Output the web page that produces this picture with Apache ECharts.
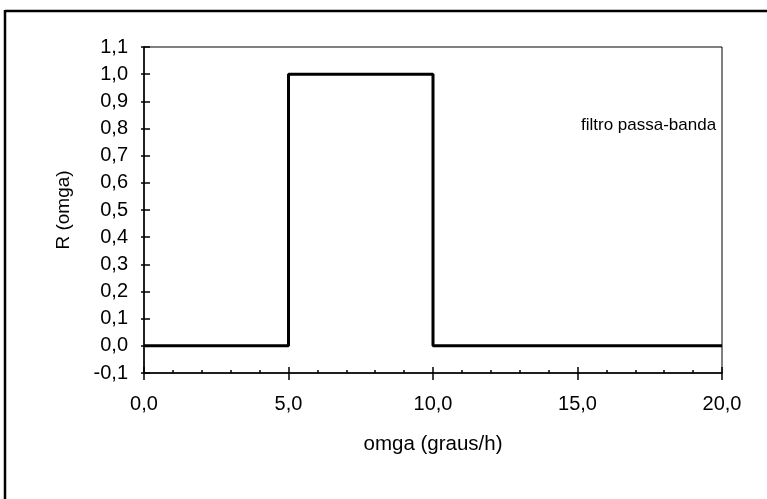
<!DOCTYPE html>
<html>
<head>
<meta charset="utf-8">
<script src="https://cdn.jsdelivr.net/npm/echarts@6/dist/echarts.min.js"></script>
<style>
  html, body { margin: 0; padding: 0; background: #fff; }
  #chart { width: 767px; height: 499px; }
</style>
</head>
<body>
<div id="chart"></div>
<script>
// Ideal band-pass response R(omga): 1 between 5 and 10 graus/h, 0 elsewhere
const omga = [0, 5, 5, 10, 10, 20];
const response = [0, 0, 1, 1, 0, 0];
const xTicks = [0, 5, 10, 15, 20];
const yTicks = [-0.1, 0, 0.1, 0.2, 0.3, 0.4, 0.5, 0.6, 0.7, 0.8, 0.9, 1.0, 1.1];

const font = 'Liberation Sans, Arial, sans-serif';
const comma = v => Number(v).toFixed(1).replace('.', ',');

const chart = echarts.init(document.getElementById('chart'), null, { renderer: 'canvas' });

const xBase = {
  type: 'value',
  min: xTicks[0],
  max: xTicks[xTicks.length - 1],
  interval: xTicks[1] - xTicks[0],
  splitLine: { show: false }
};
const yBase = {
  type: 'value',
  min: yTicks[0],
  max: yTicks[yTicks.length - 1],
  interval: 0.1,
  splitLine: { show: false }
};

chart.setOption({
  animation: false,
  backgroundColor: '#fff',
  grid: {
    left: 144, right: 45, top: 47, bottom: 126,
    show: true, borderColor: '#000', borderWidth: 1
  },
  xAxis: [
    Object.assign({}, xBase, {
      name: 'omga (graus/h)',
      nameLocation: 'middle',
      nameGap: 61,
      nameTextStyle: { fontFamily: font, fontSize: 20.5, color: '#000' },
      axisLine: { onZero: false, lineStyle: { color: '#000', width: 1.5 } },
      axisTick: { inside: true, length: 6, lineStyle: { color: '#000', width: 1.5 } },
      minorTick: { show: true, splitNumber: 5, length: 3, lineStyle: { color: '#000', width: 1.5 } },
      axisLabel: { formatter: comma, fontFamily: font, fontSize: 20, color: '#000', margin: 21 }
    }),
    Object.assign({}, xBase, {
      position: 'bottom',
      axisLine: { show: false, onZero: false },
      axisTick: { inside: false, length: 7, lineStyle: { color: '#000', width: 1.5 } },
      axisLabel: { show: false }
    })
  ],
  yAxis: [
    Object.assign({}, yBase, {
      name: 'R (omga)',
      nameLocation: 'middle',
      nameGap: 71,
      nameTextStyle: { fontFamily: font, fontSize: 19, color: '#000' },
      axisLine: { onZero: false, lineStyle: { color: '#000', width: 1.5 } },
      axisTick: { inside: true, length: 6, lineStyle: { color: '#000', width: 1.5 } },
      axisLabel: { formatter: comma, fontFamily: font, fontSize: 20, color: '#000', margin: 16 }
    }),
    Object.assign({}, yBase, {
      position: 'left',
      axisLine: { show: false, onZero: false },
      axisTick: { inside: false, length: 3, lineStyle: { color: '#000', width: 1.5 } },
      axisLabel: { show: false }
    })
  ],
  series: [{
    type: 'line',
    data: omga.map((x, i) => [x, response[i]]),
    showSymbol: false,
    lineStyle: { color: '#000', width: 3 },
    clip: false
  }],
  graphic: [
    { type: 'line', shape: { x1: 5, y1: 11, x2: 767, y2: 11 }, style: { stroke: '#000', lineWidth: 2.5 } },
    { type: 'line', shape: { x1: 5, y1: 10, x2: 5, y2: 499 }, style: { stroke: '#000', lineWidth: 2.5 } },
    {
      type: 'text', left: 581, top: 117,
      style: { text: 'filtro passa-banda', fontFamily: font, fontSize: 17, fill: '#000' }
    }
  ]
});
</script>
</body>
</html>
